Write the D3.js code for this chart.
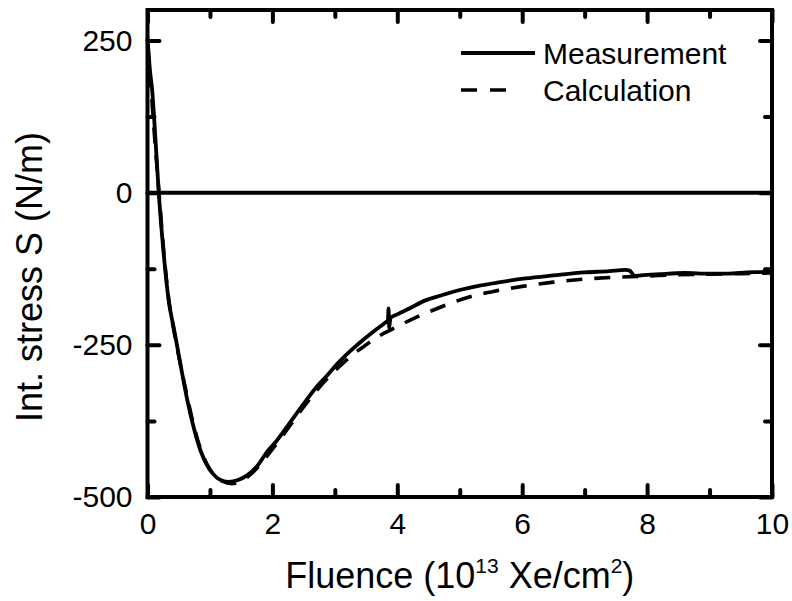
<!DOCTYPE html>
<html><head><meta charset="utf-8">
<script src="https://cdn.jsdelivr.net/npm/d3@7"></script>
<style>body{margin:0;background:#fff}svg{display:block}</style>
</head><body>
<script>
const measFluence = [0,0.04,0.075,0.12,0.18,0.25,0.34,0.42,0.48,0.56,0.64,0.75,0.85,0.95,1.05,1.15,1.3,1.45,1.6,1.75,1.92,2.05,2.18,2.35,2.55,2.7,2.88,3.05,3.25,3.45,3.62,3.8,3.85,3.86,3.87,3.89,4.0,4.2,4.45,4.7,5.0,5.3,5.65,6.05,6.5,7.0,7.4,7.65,7.72,7.8,7.9,8.2,8.6,9.0,9.3,9.6,9.9,10.0];
const measStress  = [255,200,168,100,0,-90,-178,-222,-255,-300,-342,-390,-424,-447,-462,-471,-475,-472,-464,-450,-425,-410,-392,-368,-340,-320,-300,-280,-260,-242,-228,-214,-210,-190,-222,-206,-200,-190,-177,-169,-160,-153,-147,-141,-136,-131,-129,-127,-128,-137,-136,-134,-132,-133,-133,-131,-130,-127];
const calcFluence = [0,0.05,0.1,0.18,0.25,0.34,0.42,0.5,0.6,0.7,0.8,0.9,1.0,1.1,1.2,1.35,1.5,1.65,1.8,1.95,2.1,2.3,2.5,2.7,2.9,3.1,3.3,3.5,3.75,4.0,4.3,4.6,4.9,5.2,5.6,6.0,6.5,7.0,7.5,8.0,8.5,9.0,9.5,10.0];
const calcStress  = [245,180,110,5,-85,-175,-225,-268,-318,-365,-405,-435,-455,-467,-474,-478,-474,-463,-447,-428,-408,-380,-352,-326,-303,-283,-265,-250,-233,-220,-205,-192,-180,-170,-161,-154,-147,-142,-139,-137,-135,-134,-133,-132];
const xMajorTicks = [0,2,4,6,8,10];
const xMinorTicks = [1,3,5,7,9];
const yMajorTicks = [250,0,-250,-500];
const yMinorTicks = [125,-125,-375];
const legendLabels = ["Measurement","Calculation"];

const W=792,H=601;
const L=147.5,R=772,T=10,B=497;
const svg=d3.select("body").append("svg").attr("width",W).attr("height",H)
  .style("font-family","'Liberation Sans',Arial,sans-serif");
const x=d3.scaleLinear().domain([0,10]).range([L,R]);
const y=d3.scaleLinear().domain([-500,300]).range([B,T]);

const lw=4;
const fmt=d=>String(d);
function styleAxis(g){
  g.select(".domain").remove();
  g.selectAll(".tick line").attr("stroke","#000").attr("stroke-width",lw).attr("stroke-linecap","round");
  g.selectAll(".tick text").attr("fill","#000").attr("font-size",30);
}
// bottom
svg.append("g").attr("transform",`translate(0,${B})`)
  .call(d3.axisBottom(x).tickValues(xMajorTicks).tickSize(-12).tickPadding(16).tickFormat(fmt)).call(styleAxis);
svg.append("g").attr("transform",`translate(0,${B})`)
  .call(d3.axisBottom(x).tickValues(xMinorTicks).tickSize(-7).tickFormat("")).call(styleAxis);
// top
svg.append("g").attr("transform",`translate(0,${T})`)
  .call(d3.axisTop(x).tickValues(xMajorTicks).tickSize(-12).tickFormat("")).call(styleAxis);
svg.append("g").attr("transform",`translate(0,${T})`)
  .call(d3.axisTop(x).tickValues(xMinorTicks).tickSize(-7).tickFormat("")).call(styleAxis);
// left
svg.append("g").attr("transform",`translate(${L},0)`)
  .call(d3.axisLeft(y).tickValues(yMajorTicks).tickSize(-12).tickPadding(15).tickFormat(fmt)).call(styleAxis);
svg.append("g").attr("transform",`translate(${L},0)`)
  .call(d3.axisLeft(y).tickValues(yMinorTicks).tickSize(-7).tickFormat("")).call(styleAxis);
// right
svg.append("g").attr("transform",`translate(${R},0)`)
  .call(d3.axisRight(y).tickValues(yMajorTicks).tickSize(-12).tickFormat("")).call(styleAxis);
svg.append("g").attr("transform",`translate(${R},0)`)
  .call(d3.axisRight(y).tickValues(yMinorTicks).tickSize(-7).tickFormat("")).call(styleAxis);

// frame
svg.append("rect").attr("x",L).attr("y",T).attr("width",R-L).attr("height",B-T)
  .attr("fill","none").attr("stroke","#000").attr("stroke-width",lw);
// zero line
svg.append("line").attr("x1",L).attr("x2",R).attr("y1",y(0)).attr("y2",y(0))
  .attr("stroke","#000").attr("stroke-width",lw);

const meas=measFluence.map((f,i)=>[f,measStress[i]]);
const calc=calcFluence.map((f,i)=>[f,calcStress[i]]);
const line=d3.line().x(d=>x(d[0])).y(d=>y(d[1])).curve(d3.curveMonotoneX);
svg.append("path").datum(calc).attr("d",line).attr("fill","none").attr("stroke","#000")
  .attr("stroke-width",3.6).attr("stroke-dasharray","16,12");
svg.append("path").datum(meas).attr("d",line).attr("fill","none").attr("stroke","#000")
  .attr("stroke-width",3.8).attr("stroke-linejoin","round");

// legend
svg.append("line").attr("x1",461).attr("x2",535).attr("y1",53).attr("y2",53).attr("stroke","#000").attr("stroke-width",3.8);
svg.append("line").attr("x1",461).attr("x2",507).attr("y1",90).attr("y2",90).attr("stroke","#000").attr("stroke-width",3.6).attr("stroke-dasharray","16,13");
svg.append("text").attr("x",543).attr("y",64).attr("font-size",30).text(legendLabels[0]);
svg.append("text").attr("x",543).attr("y",101).attr("font-size",30).text(legendLabels[1]);

// axis titles
const xt=svg.append("text").attr("x",(L+R)/2).attr("y",588).attr("text-anchor","middle").attr("font-size",36);
xt.append("tspan").text("Fluence (10");
xt.append("tspan").attr("font-size",21).attr("dy",-15).text("13");
xt.append("tspan").attr("dy",15).text(" Xe/cm");
xt.append("tspan").attr("font-size",21).attr("dy",-15).text("2");
xt.append("tspan").attr("dy",15).text(")");
svg.append("text").attr("transform",`translate(42,277) rotate(-90)`)
  .attr("text-anchor","middle").attr("font-size",36).text("Int. stress S (N/m)");
</script>
</body></html>
